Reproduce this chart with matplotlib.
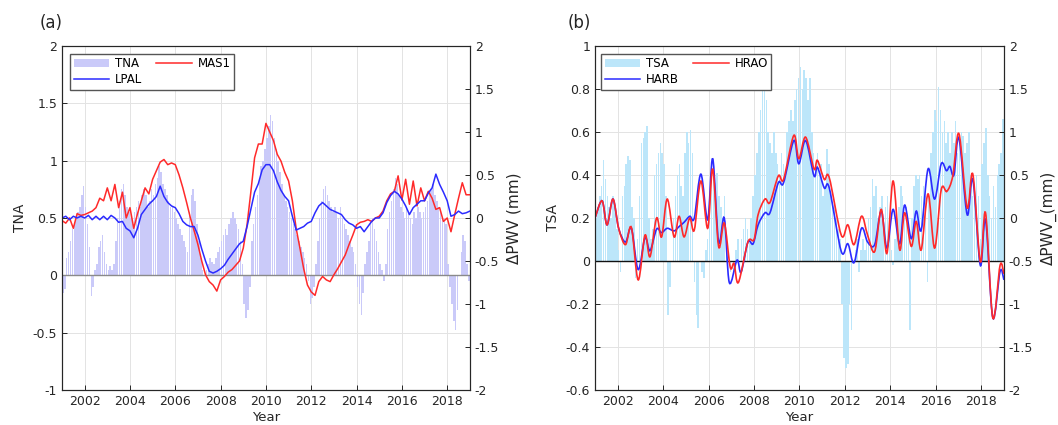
import numpy as np
import matplotlib.pyplot as plt
from matplotlib.path import Path
from matplotlib.patches import PathPatch, Patch
from matplotlib.lines import Line2D
from matplotlib.ticker import FuncFormatter

plt.rcParams['font.family'] = 'DejaVu Sans'
plt.rcParams['axes.unicode_minus'] = False

# monthly index values, Jan 2001 .. Dec 2018 (one row per year)
tna = [
    -0.15, -0.12, 0.15, 0.2, 0.3, 0.4, 0.45, 0.5, 0.55, 0.6, 0.7, 0.78,
    0.6, 0.45, 0.25, -0.18, -0.1, 0.05, 0.1, 0.25, 0.3, 0.35, 0.2, 0.1,
    0.05, 0.08, 0.05, 0.1, 0.3, 0.5, 0.65, 0.75, 0.8, 0.7, 0.6, 0.55,
    0.5, 0.45, 0.55, 0.6, 0.65, 0.6, 0.7, 0.75, 0.7, 0.6, 0.65, 0.75,
    0.7, 0.8, 0.85, 0.95, 0.9, 0.8, 0.75, 0.7, 0.65, 0.6, 0.6, 0.55,
    0.5, 0.45, 0.4, 0.35, 0.3, 0.25, 0.2, 0.55, 0.7, 0.75, 0.65, 0.45,
    0.3, 0.15, 0.05, 0.0, 0.05, 0.1, 0.15, 0.12, 0.1, 0.15, 0.2, 0.25,
    0.3, 0.35, 0.4, 0.35, 0.45, 0.5, 0.55, 0.5, 0.45, 0.4, 0.3, 0.1,
    -0.25, -0.37, -0.3, -0.1, 0.3, 0.45, 0.6, 0.7, 0.85, 0.95, 1.0, 1.1,
    1.2, 1.3, 1.4, 1.35, 1.2, 1.1, 1.0, 0.9, 0.8, 0.7, 0.65, 0.6,
    0.55, 0.5, 0.45, 0.4, 0.35, 0.3, 0.25, 0.2, 0.15, 0.1, -0.05, -0.25,
    -0.2, -0.1, 0.1, 0.3, 0.5, 0.65, 0.75, 0.78, 0.7, 0.65, 0.6, 0.55,
    0.6, 0.55, 0.5, 0.6, 0.5, 0.45, 0.4, 0.35, 0.3, 0.25, 0.2, 0.1,
    -0.1, -0.25, -0.35, -0.15, 0.1, 0.2, 0.3, 0.45, 0.5, 0.4, 0.3, 0.2,
    0.1, 0.05, -0.05, 0.1, 0.4, 0.55, 0.65, 0.75, 0.85, 0.8, 0.7, 0.6,
    0.55, 0.5, 0.6, 0.55, 0.5, 0.45, 0.55, 0.5, 0.6, 0.55, 0.5, 0.55,
    0.6, 0.65, 0.7, 0.75, 0.8, 0.7, 0.65, 0.6, 0.55, 0.5, 0.5, 0.45,
    0.1, -0.1, -0.25, -0.4, -0.48, -0.3, 0.0, 0.2, 0.35, 0.3, 0.1, -0.05,
]

tsa = [
    0.2, 0.25, 0.3, 0.35, 0.47, 0.38, 0.3, 0.25, 0.2, 0.3, 0.25, 0.15,
    0.05, -0.05, 0.3, 0.35, 0.45, 0.49, 0.47, 0.25, 0.2, -0.08, 0.1, 0.3,
    0.55, 0.57, 0.6, 0.63, 0.2, 0.1, 0.15, 0.4, 0.45, 0.5, 0.55, 0.5,
    0.45, 0.3, -0.25, -0.12, 0.0, 0.2, 0.3, 0.4, 0.45, 0.35, 0.3, 0.5,
    0.6, 0.55, 0.61, 0.5, -0.1, -0.25, -0.31, 0.0, -0.05, -0.08, 0.05, 0.1,
    0.2, 0.4, 0.43, 0.3, 0.41, 0.3, 0.25, 0.2, 0.3, 0.1, 0.0, -0.05,
    0.0, -0.05, 0.05, 0.1, 0.0, 0.1, 0.15, 0.2, 0.15, 0.1, 0.2, 0.3,
    0.4, 0.5, 0.6, 0.7, 0.8, 0.88, 0.75, 0.6, 0.55, 0.5, 0.6, 0.5,
    0.45, 0.4, 0.5, 0.45, 0.4, 0.6, 0.65, 0.7, 0.65, 0.75, 0.8, 0.85,
    0.9, 0.8, 0.89, 0.85, 0.75, 0.85, 0.6, 0.5, 0.45, 0.5, 0.4, 0.45,
    0.3, 0.35, 0.52, 0.45, 0.3, 0.25, 0.27, 0.2, 0.15, 0.1, -0.2, -0.45,
    -0.5, -0.48, -0.2, -0.32, 0.0, 0.05, 0.1, -0.05, 0.05, 0.1, 0.05, 0.1,
    0.2, 0.25, 0.38, 0.3, 0.35, 0.2, 0.25, 0.3, 0.2, 0.25, 0.3, 0.2,
    0.05, -0.02, 0.1, 0.2, 0.25, 0.35, 0.3, 0.2, 0.25, 0.15, -0.32, 0.2,
    0.35, 0.4, 0.38, 0.4, 0.3, 0.35, 0.3, -0.1, 0.3, 0.5, 0.6, 0.7,
    0.65, 0.81, 0.7, 0.6, 0.65, 0.55, 0.6, 0.5, 0.6, 0.55, 0.65, 0.5,
    0.55, 0.6, 0.58, 0.5, 0.55, 0.6, 0.4, 0.3, 0.35, 0.4, 0.3, 0.1,
    0.45, 0.55, 0.62, 0.4, 0.3, 0.2, 0.35, 0.25, 0.4, 0.45, 0.5, 0.66,
]

# dPWV (mm), every two months from 2001.0 to 2019.0
mas1 = [
    -0.03, -0.06, 0.0, -0.12, 0.05, 0.03,
    0.04, 0.06, 0.08, 0.12, 0.23, 0.2,
    0.35, 0.2, 0.39, 0.12, 0.3, 0.0,
    0.12, -0.12, 0.05, 0.2, 0.35, 0.28,
    0.45, 0.55, 0.65, 0.68, 0.62, 0.64,
    0.62, 0.5, 0.35, 0.18, 0.0, -0.15,
    -0.31, -0.5, -0.66, -0.74, -0.78, -0.85,
    -0.72, -0.68, -0.63, -0.6, -0.55, -0.5,
    -0.35, -0.08, 0.3, 0.7, 0.86, 0.86,
    1.1, 1.0, 0.9, 0.74, 0.66, 0.53,
    0.43, 0.2, -0.12, -0.35, -0.59, -0.78,
    -0.86, -0.9, -0.74, -0.68, -0.72, -0.74,
    -0.66, -0.59, -0.51, -0.43, -0.31, -0.2,
    -0.08, -0.05, -0.04, -0.02, -0.04, 0.0,
    0.02, 0.08, 0.2, 0.28, 0.31, 0.49,
    0.21, 0.45, 0.16, 0.43, 0.14, 0.35,
    0.2, 0.31, 0.23, 0.1, 0.12, -0.04,
    0.0, -0.16, 0.04, 0.23, 0.41, 0.27,
    0.27,
]

lpal = [
    0.0, 0.02, -0.02, 0.02, 0.0, 0.02,
    0.0, 0.03, -0.02, 0.02, -0.02, 0.02,
    -0.02, 0.03, 0.0, -0.05, -0.04, -0.12,
    -0.15, -0.23, -0.12, 0.04, 0.1, 0.16,
    0.2, 0.25, 0.37, 0.25, 0.18, 0.14,
    0.12, 0.05, -0.04, -0.08, -0.1, -0.1,
    -0.2, -0.36, -0.5, -0.62, -0.64, -0.62,
    -0.59, -0.55, -0.48, -0.42, -0.36, -0.3,
    -0.27, -0.1, 0.1, 0.3, 0.4, 0.56,
    0.62, 0.62, 0.55, 0.42, 0.32, 0.25,
    0.2, 0.02, -0.14, -0.12, -0.1, -0.06,
    -0.04, 0.06, 0.14, 0.18, 0.14, 0.1,
    0.08, 0.06, 0.04, -0.02, -0.06, -0.08,
    -0.12, -0.1, -0.16, -0.1, -0.04, 0.0,
    0.0, 0.06, 0.18, 0.26, 0.31, 0.28,
    0.22, 0.14, 0.04, 0.12, 0.16, 0.2,
    0.2, 0.29, 0.35, 0.51, 0.39, 0.3,
    0.2, 0.02, 0.04, 0.08, 0.05, 0.06,
    0.08,
]

# dPWV (mm) at turning points of the smoothed series
hrao_t = [2001.0, 2001.31, 2001.53, 2001.79, 2002.04, 2002.34, 2002.6, 2002.9,
          2003.2, 2003.42, 2003.71, 2003.93, 2004.18, 2004.48, 2004.7, 2004.92,
          2005.17, 2005.37, 2005.66, 2005.96, 2006.18, 2006.44, 2006.69, 2006.95,
          2007.12, 2007.31, 2007.73, 2008.0, 2008.18, 2008.48, 2008.7, 2009.07,
          2009.3, 2009.75, 2009.97, 2010.27, 2010.64, 2010.79, 2011.09, 2011.31,
          2011.84, 2012.13, 2012.4, 2012.73, 2013.0, 2013.31, 2013.6, 2013.85,
          2014.12, 2014.41, 2014.63, 2014.92, 2015.14, 2015.36, 2015.66, 2015.95,
          2016.24, 2016.49, 2016.75, 2017.02, 2017.38, 2017.63, 2017.96, 2018.19,
          2018.51, 2018.83, 2019.0]
hrao = [0.0, 0.2, -0.08, 0.22, -0.12, -0.31, -0.11, -0.72,
        -0.2, -0.45, 0.0, -0.22, 0.22, -0.22, 0.02, -0.22,
        0.0, -0.14, 0.43, -0.12, 0.57, -0.33, -0.06, -0.57,
        -0.53, -0.75, -0.28, -0.25, 0.04, 0.22, 0.18, 0.49,
        0.45, 0.96, 0.69, 0.94, 0.57, 0.67, 0.45, 0.47,
        -0.2, -0.08, -0.31, 0.02, -0.2, -0.39, 0.1, -0.41,
        0.43, -0.37, 0.06, -0.33, -0.04, -0.37, 0.28, -0.35,
        0.33, 0.31, 0.49, 0.98, 0.12, 0.51, -0.51, 0.06,
        -1.16, -0.55, -0.65]

harb_t = [2001.0, 2001.31, 2001.53, 2001.79, 2002.04, 2002.34, 2002.6, 2002.9,
          2003.2, 2003.42, 2003.71, 2003.93, 2004.18, 2004.48, 2004.7, 2004.92,
          2005.17, 2005.37, 2005.66, 2005.96, 2006.18, 2006.44, 2006.69, 2006.91,
          2007.25, 2007.43, 2007.73, 2007.96, 2008.18, 2008.48, 2008.7, 2009.07,
          2009.3, 2009.75, 2009.97, 2010.27, 2010.64, 2010.79, 2011.09, 2011.31,
          2011.84, 2012.13, 2012.4, 2012.73, 2013.0, 2013.31, 2013.6, 2013.85,
          2014.12, 2014.41, 2014.63, 2014.92, 2015.14, 2015.36, 2015.66, 2015.95,
          2016.24, 2016.47, 2016.62, 2016.8, 2017.02, 2017.38, 2017.63, 2017.96,
          2018.19, 2018.51, 2018.83, 2019.0]
harb = [0.0, 0.2, -0.08, 0.22, -0.12, -0.28, -0.12, -0.6,
        -0.23, -0.38, -0.13, -0.17, -0.12, -0.15, -0.1, -0.05,
        0.02, 0.0, 0.51, -0.02, 0.69, -0.28, 0.0, -0.75,
        -0.49, -0.63, -0.28, -0.3, -0.08, 0.06, 0.06, 0.41,
        0.41, 0.9, 0.63, 0.9, 0.49, 0.59, 0.35, 0.35,
        -0.39, -0.3, -0.52, -0.12, -0.28, -0.31, 0.08, -0.35,
        0.1, -0.3, 0.15, -0.24, 0.08, -0.14, 0.57, 0.22,
        0.63, 0.55, 0.6, 0.5, 0.93, 0.04, 0.45, -0.55,
        -0.02, -1.16, -0.62, -0.72]

bar_time = 2001 + (np.arange(len(tna)) + 0.5) / 12
line_time = 2001 + np.arange(len(mas1)) / 6

RED = '#ff2a2a'
BLUE = '#2b2bff'
DARK = '#262626'


def smooth_path(t, v):
    # Catmull-Rom through the read points, drawn as cubic Bezier segments
    p = np.column_stack([t, v])
    n = len(p)
    verts = [p[0]]
    codes = [Path.MOVETO]
    for i in range(n - 1):
        a = p[i - 1] if i > 0 else p[i]
        d = p[i + 2] if i + 2 < n else p[i + 1]
        verts += [p[i] + (p[i + 1] - a) / 6, p[i + 1] - (d - p[i]) / 6, p[i + 1]]
        codes += [Path.CURVE4] * 3
    return Path(verts, codes)


def fmt(v, _):
    return f'{round(v, 2) + 0.0:g}'


def style(ax):
    for s in ax.spines.values():
        s.set_color(DARK)
        s.set_linewidth(0.8)
    ax.tick_params(direction='in', length=3.5, width=0.7, colors=DARK,
                   labelsize=9, labelcolor=DARK)
    ax.yaxis.set_major_formatter(FuncFormatter(fmt))


def panel(rect, bars, bar_color, zero_color, ylim, yticks, ylabel, rlabel, tag, tag_x):
    ax = fig.add_axes(rect)
    ax.set_axisbelow(True)
    ax.grid(True, color='#e3e3e3', linewidth=0.7)
    ax.bar(bar_time, bars, width=1 / 12 * 0.8, color=bar_color, linewidth=0, zorder=1)
    ax.axhline(0, color=zero_color, linewidth=1.0, zorder=2)
    ax.set_xlim(2001, 2019)
    ax.set_xticks(np.arange(2002, 2019, 2))
    ax.set_ylim(*ylim)
    ax.set_yticks(yticks)
    ax.set_ylabel(ylabel, fontsize=10, color=DARK, labelpad=4)
    ax.set_xlabel('Year', fontsize=9.5, color=DARK, labelpad=2)
    style(ax)
    ax2 = ax.twinx()
    ax2.set_ylim(-2, 2)
    ax2.set_yticks(np.arange(-2, 2.01, 0.5))
    ax2.set_ylabel(rlabel, fontsize=11, color=DARK, labelpad=5)
    style(ax2)
    ax.text(tag_x, 1.066, tag, transform=ax.transAxes, fontsize=12, color=DARK,
            va='center')
    return ax, ax2


fig = plt.figure(figsize=(10.58, 4.25), dpi=100)

# (a) TNA with MAS1 / LPAL
axa, axa2 = panel([0.0586, 0.0824, 0.3855, 0.8094], tna, '#cacaf9', '#8a8a8a',
                  (-1, 2), np.arange(-1, 2.01, 0.5), 'TNA', 'ΔPWV (mm)', '(a)', -0.055)
axa2.plot(line_time, mas1, color=RED, linewidth=1.1)
axa2.plot(line_time, lpal, color=BLUE, linewidth=1.1)
handles = [Patch(facecolor='#cacaf9', edgecolor='none'),
           Line2D([], [], color=BLUE, linewidth=1.1),
           Line2D([], [], color=RED, linewidth=1.1)]
leg = axa2.legend(handles, ['TNA', 'LPAL', 'MAS1'], ncol=2, loc='upper left',
                  bbox_to_anchor=(0.02, 0.978), fontsize=8.5, fancybox=False,
                  edgecolor='#555555', framealpha=1, handlelength=3.0,
                  borderpad=0.3, labelspacing=0.25, columnspacing=1.2,
                  handletextpad=0.5, borderaxespad=0)
leg.get_frame().set_linewidth(1.0)

# (b) TSA with HRAO / HARB
axb, axb2 = panel([0.5624, 0.0824, 0.3865, 0.8094], tsa, '#bce6fa', '#111111',
                  (-0.6, 1), np.arange(-0.6, 1.01, 0.2), 'TSA', 'ΔPWV_(mm)', '(b)', -0.066)
axb2.add_patch(PathPatch(smooth_path(harb_t, harb), fill=False, edgecolor=BLUE,
                         linewidth=1.2, transform=axb2.transData))
axb2.add_patch(PathPatch(smooth_path(hrao_t, hrao), fill=False, edgecolor=RED,
                         linewidth=1.2, transform=axb2.transData))
handles = [Patch(facecolor='#bce6fa', edgecolor='none'),
           Line2D([], [], color=BLUE, linewidth=1.1),
           Line2D([], [], color=RED, linewidth=1.1)]
leg = axb2.legend(handles, ['TSA', 'HARB', 'HRAO'], ncol=2, loc='upper left',
                  bbox_to_anchor=(0.015, 0.978), fontsize=8.5, fancybox=False,
                  edgecolor='#555555', framealpha=1, handlelength=3.0,
                  borderpad=0.3, labelspacing=0.25, columnspacing=1.2,
                  handletextpad=0.5, borderaxespad=0)
leg.get_frame().set_linewidth(1.0)

fig.savefig('out.png', dpi=100)
